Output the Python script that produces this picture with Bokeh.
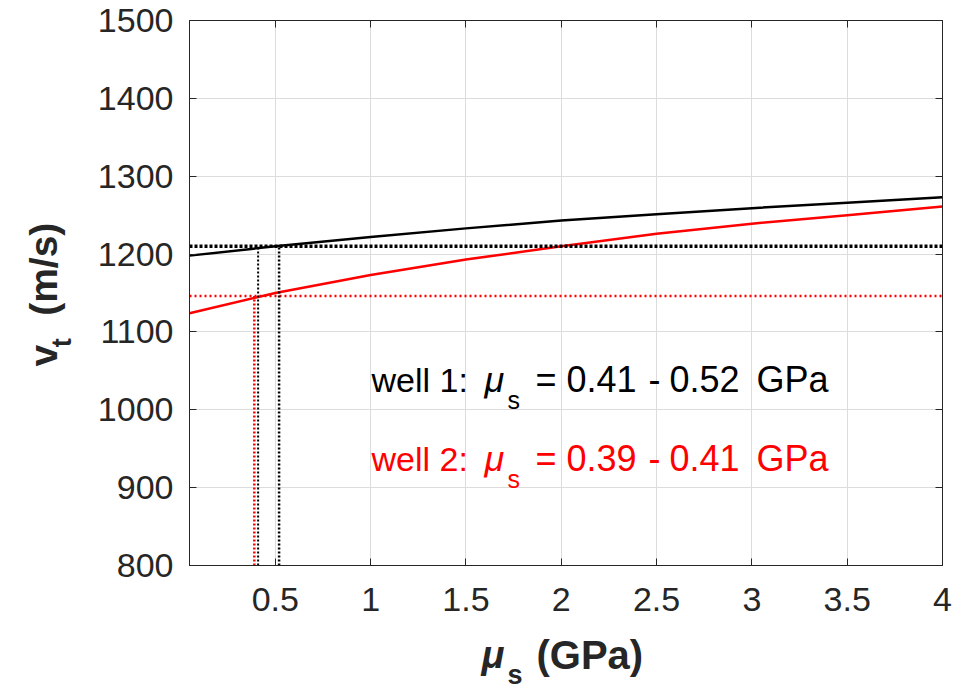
import math
from bokeh.plotting import figure
from bokeh.layouts import row, column
from bokeh.models import Range1d, Label, LinearAxis, FixedTicker
from bokeh.embed import file_html
from bokeh.resources import INLINE

# ---- data ----
mu_gpa = [0.05, 0.5, 1.0, 1.5, 2.0, 2.5, 3.0, 3.5, 4.0]
vt_well1 = [1198, 1210, 1222, 1233, 1243, 1251, 1259, 1266, 1273]
vt_well2 = [1124, 1150, 1173, 1193, 1210, 1226, 1239, 1250, 1261]
vt_obs_well1 = 1210
vt_obs_well2 = 1146
mu_range_well1 = [0.41, 0.52]
mu_range_well2 = [0.39, 0.41]
x_ticks = [0.5, 1, 1.5, 2, 2.5, 3, 3.5, 4]
y_ticks = [800, 900, 1000, 1100, 1200, 1300, 1400, 1500]

X0, X1 = 0.05, 4.0
Y0, Y1 = 800, 1500
W, H = 963, 689
LW = 90            # width of left label strip
BH = 58            # height of bottom label strip
MW, MH = W - LW, H - BH
FL, FR, FT, FB = 189, 942, 20, 565   # frame edges in page pixels
SHIFT = 0.4        # label anchor correction (em) toward the text's top

def dx(px):
    return X0 + (px - FL) * (X1 - X0) / (FR - FL)

def dy(py):
    return Y1 - (py - FT) * (Y1 - Y0) / (FB - FT)

FONT = "Liberation Sans"
AX = "#262626"

p = figure(width=MW, height=MH, output_backend="svg", toolbar_location=None,
           x_range=Range1d(X0, X1), y_range=Range1d(Y0, Y1),
           min_border_left=FL - LW, min_border_right=W - FR,
           min_border_top=FT, min_border_bottom=MH - FB)
p.outline_line_color = AX
p.outline_line_width = 1
p.background_fill_color = "white"
p.border_fill_color = "white"

for ax, ticks in ((p.xaxis[0], x_ticks), (p.yaxis[0], y_ticks)):
    ax.ticker = FixedTicker(ticks=ticks)
    ax.axis_line_color = AX
    ax.major_tick_line_color = AX
    ax.major_tick_in = 7
    ax.major_tick_out = 0
    ax.minor_tick_line_color = None
    ax.major_label_text_font = FONT
    ax.major_label_text_font_size = "34px"
    ax.major_label_text_color = AX
p.xaxis[0].major_label_standoff = 22
p.yaxis[0].major_label_standoff = 16

# mirrored box ticks
for loc in ("right", "above"):
    ticks = y_ticks if loc == "right" else x_ticks
    a = LinearAxis(ticker=FixedTicker(ticks=ticks),
                   major_label_overrides={t: "" for t in ticks},
                   axis_line_color=AX,
                   major_tick_line_color=AX, major_tick_in=7, major_tick_out=0,
                   minor_tick_line_color=None, major_label_standoff=0)
    p.add_layout(a, loc)

p.xgrid.ticker = FixedTicker(ticks=x_ticks)
p.ygrid.ticker = FixedTicker(ticks=y_ticks)
p.xgrid.grid_line_color = "#dcdcdc"
p.ygrid.grid_line_color = "#dcdcdc"

# curves
p.line(mu_gpa, vt_well1, line_color="black", line_width=2.5)
p.line(mu_gpa, vt_well2, line_color="red", line_width=2.5)

# horizontal dotted lines
p.line([X0, X1], [vt_obs_well1, vt_obs_well1], line_color="black", line_width=3.5, line_dash="3 2")
p.line([X0, X1], [vt_obs_well2, vt_obs_well2], line_color="red", line_width=2.5, line_dash="2 3")

# vertical dotted lines
p.line([mu_range_well2[0]] * 2, [Y0, vt_obs_well2], line_color="red", line_width=2.5, line_dash="2 2")
p.line([mu_range_well1[0]] * 2, [Y0, vt_obs_well1], line_color="black", line_width=2, line_dash="2 2")
p.line([mu_range_well1[1]] * 2, [Y0, vt_obs_well1], line_color="black", line_width=2.5, line_dash="2 2")

def lab(px, py, text, color="black", size=35, style="normal"):
    py = py - SHIFT * size
    p.add_layout(Label(x=dx(px), y=dy(py), text=text, text_color=color,
                       text_font=FONT, text_font_size=f"{size}px",
                       text_font_style=style, text_align="left",
                       text_baseline="alphabetic"))

# annotation texts
for (base, color, r, n) in ((393, "black", mu_range_well1, 1), (472, "red", mu_range_well2, 2)):
    lab(371, base, f"well {n}:", color, size=34)
    lab(484, base, "\u03bc", color, size=36, style="italic")
    lab(507, base + 16, "s", color, size=25)
    lab(535, base, "=", color, size=36)
    lab(566, base, f"{r[0]:.2f}", color, size=36)
    lab(648, base, "-", color, size=36)
    lab(669, base, f"{r[1]:.2f}", color, size=36)
    lab(756, base, "GPa", color, size=36)


def strip(w, h):
    f = figure(width=w, height=h, output_backend="svg", toolbar_location=None,
               x_range=Range1d(0, w), y_range=Range1d(0, h),
               x_axis_type=None, y_axis_type=None, min_border=0)
    f.outline_line_color = None
    f.grid.visible = False
    f.background_fill_color = "white"
    f.border_fill_color = "white"
    return f


def htxt(f, ybot, px, py, text, size, style):
    py = py - SHIFT * size
    f.add_layout(Label(x=px, y=ybot - py, text=text,
                       text_color=AX, text_font=FONT, text_font_size=f"{size}px",
                       text_font_style=style, text_align="left",
                       text_baseline="alphabetic"))


def vtxt(f, ybot, cx, cy, text, size, style):
    # centred rotated text anchor in page pixels
    f.add_layout(Label(x=cx, y=ybot - cy, text=text, angle=math.pi / 2,
                       text_color=AX, text_font=FONT, text_font_size=f"{size}px",
                       text_font_style=style, text_align="center",
                       text_baseline="middle"))

# bottom strip (full width, page y from MH to H): x axis label
bottom = strip(W, BH)
htxt(bottom, H, 481, 670, "\u03bc", 38, "bold italic")
htxt(bottom, H, 507, 685, "s", 27, "bold")
htxt(bottom, H, 536, 670, "(GPa)", 40, "bold")

# left strip (page y from 0 to MH): rotated y axis label
left = strip(LW, MH)
vtxt(left, MH, 43, 388, "v", 39, "bold")
vtxt(left, MH, 61, 373, "t", 27, "bold")
vtxt(left, MH, 43, 288, "(m/s)", 39, "bold")

layout = column(row(left, p, spacing=0), bottom, spacing=0)
open("out.html", "w").write(file_html(layout, INLINE))
